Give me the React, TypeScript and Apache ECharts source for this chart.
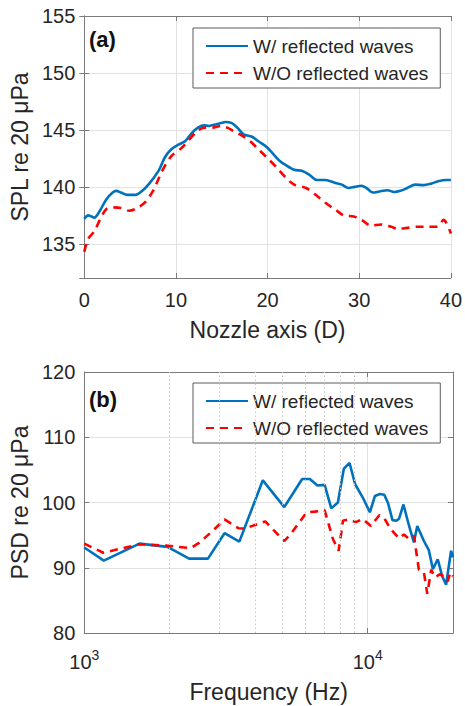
import React, { useEffect, useRef } from 'react';
import * as echarts from 'echarts';

// ---------- Panel (a): SPL along nozzle axis ----------
const nozzleW = [0, 0.43, 0.8, 1.1, 1.7, 2.4, 3.1, 3.5, 4.0, 4.7, 5.6, 6.1, 7.0, 8.1, 8.8, 9.5, 10.25, 11.0, 11.7, 12.4, 13.1, 13.6, 14.4, 14.9, 15.4, 16.1, 16.7, 17.4, 18.3, 19.0, 19.9, 20.6, 21.3, 22.0, 22.9, 23.8, 24.5, 25.4, 26.3, 27.4, 28.1, 28.8, 29.5, 30.25, 30.8, 31.5, 32.2, 33.1, 33.8, 34.5, 35.25, 36.1, 37.0, 37.9, 38.6, 39.5, 40];
const splW = [137.2, 137.5, 137.4, 137.3, 137.9, 138.9, 139.5, 139.65, 139.5, 139.3, 139.3, 139.5, 140.2, 141.4, 142.6, 143.3, 143.7, 144.0, 144.7, 145.2, 145.4, 145.35, 145.5, 145.6, 145.7, 145.6, 145.2, 144.6, 144.4, 144.0, 143.5, 142.9, 142.3, 141.9, 141.5, 141.4, 141.1, 140.6, 140.6, 140.35, 140.2, 139.9, 140.0, 140.1, 139.9, 139.5, 139.6, 139.7, 139.55, 139.65, 139.9, 140.2, 140.15, 140.3, 140.5, 140.6, 140.6];
const nozzleWO = [0, 0.4, 1.1, 1.7, 2.4, 3.1, 4.0, 4.9, 5.8, 6.7, 7.6, 8.5, 9.5, 10.6, 11.3, 12.2, 13.1, 14.0, 14.9, 15.6, 16.3, 17.2, 18.1, 19.0, 19.9, 21.0, 22.0, 22.9, 24.2, 25.25, 26.3, 27.4, 28.3, 29.4, 30.25, 31.3, 32.4, 33.5, 34.2, 35.25, 36.3, 37.4, 38.5, 39.2, 40];
const splWO = [134.3, 135.4, 136.1, 137.1, 138.05, 138.2, 138.15, 137.9, 138.15, 138.7, 139.8, 141.4, 142.7, 143.4, 144.0, 144.8, 145.2, 145.2, 145.35, 145.2, 144.9, 144.5, 144.0, 143.3, 142.6, 141.7, 140.8, 140.2, 139.9, 139.3, 138.6, 138.0, 137.5, 137.4, 137.1, 136.6, 136.7, 136.5, 136.3, 136.4, 136.5, 136.5, 136.5, 137.1, 135.9];

// ---------- Panel (b): PSD spectrum ----------
const freqW = [1000, 1172, 1566, 1967, 2344, 2731, 3125, 3525, 4266, 5080, 5873, 6250, 6650, 7050, 7440, 7850, 8240, 8630, 9030, 9600, 10180, 10610, 11050, 11440, 11800, 12230, 12630, 12900, 13370, 14000, 14560, 14960, 15790, 16430, 16980, 17670, 18320, 18910, 19690, 20000];
const psdW = [93.1, 91.1, 93.7, 93.2, 91.4, 91.4, 95.3, 94.0, 103.4, 99.3, 103.6, 103.6, 102.6, 102.7, 99.1, 100.0, 105.2, 106.05, 102.8, 100.8, 98.5, 101.0, 101.3, 101.2, 99.9, 97.3, 97.2, 97.5, 99.7, 96.4, 93.9, 96.4, 94.1, 92.7, 89.8, 91.3, 88.7, 87.4, 92.6, 91.6];
const freqWO = [1000, 1166, 1566, 1943, 2375, 2540, 2830, 3125, 3505, 3680, 4350, 5080, 5380, 6090, 6500, 7050, 7540, 7900, 8180, 8500, 9100, 9600, 10260, 10990, 11440, 12060, 12900, 13420, 14000, 14560, 15160, 15790, 16230, 16750, 17300, 17950, 18560, 19160, 19580, 20000];
const psdWO = [93.7, 92.3, 93.6, 93.4, 93.0, 93.8, 95.6, 97.4, 96.05, 96.0, 97.1, 94.1, 95.3, 98.5, 98.6, 98.8, 94.4, 92.6, 97.2, 97.4, 97.0, 97.5, 96.4, 98.05, 97.6, 95.9, 94.5, 95.1, 94.4, 94.9, 89.7, 89.3, 86.0, 89.7, 88.5, 89.0, 88.7, 87.9, 89.3, 88.7];
const minorFreqs = [2000, 3000, 4000, 5000, 6000, 7000, 8000, 9000];

const seriesNames = ['W/ reflected waves', 'W/O reflected waves'];
const panelLabels = ['(a)', '(b)'];
const axisTitles = {
  xa: 'Nozzle axis (D)',
  ya: 'SPL re 20 μPa',
  xb: 'Frequency (Hz)',
  yb: 'PSD re 20 μPa',
};

const FONT = '"Liberation Sans", Arial, Helvetica, sans-serif';
const TXT = '#262626';
const BOX = '#7a7a7a';
const GRIDC = '#e2e2e2';
const BLUE = '#0072BD';
const RED = '#FF0000';

const zip = (xs: number[], ys: number[]) => xs.map((x, i) => [x, ys[i]]);

function buildOption(): any {
  const tickStyle = { show: true, inside: true, length: 5, lineStyle: { color: BOX, width: 1 } };
  const lineAxis = { show: true, lineStyle: { color: BOX, width: 1 } };
  const label = { fontSize: 20, color: TXT, fontFamily: FONT };
  const nameStyle = { fontSize: 23, color: TXT, fontFamily: FONT };
  const split = { show: true, lineStyle: { color: GRIDC, width: 1 } };

  const mirrorX = (gridIndex: number, extra: any) => ({
    gridIndex, position: 'top', axisLine: lineAxis, axisTick: tickStyle,
    axisLabel: { show: false }, splitLine: { show: false }, ...extra,
  });
  const mirrorY = (gridIndex: number, extra: any) => ({
    gridIndex, position: 'right', axisLine: lineAxis, axisTick: tickStyle,
    axisLabel: { show: false }, splitLine: { show: false }, ...extra,
  });

  const isPow10 = (v: number) => {
    const l = Math.log10(v);
    return Math.abs(l - Math.round(l)) < 1e-6;
  };

  const legendBase = {
    orient: 'vertical',
    left: 193,
    itemWidth: 42,
    itemHeight: 14,
    itemGap: 7,
    padding: [8, 12, 5, 12],
    backgroundColor: '#ffffff',
    borderColor: '#5a5a5a',
    borderWidth: 1,
    borderRadius: 0,
    selectedMode: false,
    itemStyle: { opacity: 0 },
    textStyle: { fontSize: 19, color: TXT, fontFamily: FONT, lineHeight: 20 },
    data: seriesNames,
  };

  return {
    animation: false,
    backgroundColor: '#ffffff',
    grid: [
      { left: 81, top: 16, width: 372, height: 262 },
      { left: 81, top: 372, width: 372, height: 261 },
    ],
    legend: [
      { ...legendBase, top: 28 },
      { ...legendBase, top: 383 },
    ],
    xAxis: [
      {
        gridIndex: 0, type: 'value', min: 0, max: 40, interval: 10, position: 'bottom',
        axisLine: lineAxis, axisTick: tickStyle,
        axisLabel: { ...label, margin: 12 },
        splitLine: split,
        name: axisTitles.xa, nameLocation: 'middle', nameGap: 40, nameTextStyle: nameStyle,
      },
      mirrorX(0, { type: 'value', min: 0, max: 40, interval: 10 }),
      {
        gridIndex: 1, type: 'log', logBase: 10, min: 1000, max: 20000, position: 'bottom',
        axisLine: lineAxis, axisTick: tickStyle,
        axisLabel: {
          margin: 15,
          formatter: (v: number) => (isPow10(v) ? `{b|10}{s|${Math.round(Math.log10(v))}}` : ''),
          rich: {
            b: { fontSize: 20, color: TXT, fontFamily: FONT, lineHeight: 28 },
            s: { fontSize: 14, color: TXT, fontFamily: FONT, lineHeight: 16, verticalAlign: 'top' },
          },
        },
        splitLine: split,
        name: axisTitles.xb, nameLocation: 'middle', nameGap: 47, nameTextStyle: nameStyle,
      },
      mirrorX(1, { type: 'log', logBase: 10, min: 1000, max: 20000 }),
    ],
    yAxis: [
      {
        gridIndex: 0, type: 'value', min: 132, max: 155, splitNumber: 5, position: 'left',
        axisLine: lineAxis, axisTick: tickStyle,
        axisLabel: { ...label, margin: 9, formatter: (v: number) => (Math.abs(v % 5) < 1e-6 ? String(v) : '') },
        splitLine: split,
        name: axisTitles.ya, nameLocation: 'middle', nameGap: 49, nameTextStyle: nameStyle,
      },
      mirrorY(0, { type: 'value', min: 132, max: 155, splitNumber: 5 }),
      {
        gridIndex: 1, type: 'value', min: 80, max: 120, interval: 10, position: 'left',
        axisLine: lineAxis, axisTick: tickStyle,
        axisLabel: { ...label, margin: 9 },
        splitLine: split,
        name: axisTitles.yb, nameLocation: 'middle', nameGap: 49, nameTextStyle: nameStyle,
      },
      mirrorY(1, { type: 'value', min: 80, max: 120, interval: 10 }),
    ],
    graphic: [
      { type: 'text', left: 89, top: 28, z: 10, style: { text: panelLabels[0], font: `bold 22px ${FONT}`, fill: '#111' } },
      { type: 'text', left: 89, top: 388, z: 10, style: { text: panelLabels[1], font: `bold 22px ${FONT}`, fill: '#111' } },
    ],
    series: [
      {
        name: seriesNames[0], type: 'line', xAxisIndex: 0, yAxisIndex: 0,
        data: zip(nozzleW, splW), showSymbol: false, symbol: 'none', smooth: 0.3,
        lineStyle: { color: BLUE, width: 2.6 }, itemStyle: { color: BLUE },
      },
      {
        name: seriesNames[1], type: 'line', xAxisIndex: 0, yAxisIndex: 0,
        data: zip(nozzleWO, splWO), showSymbol: false, symbol: 'none', smooth: 0.3,
        lineStyle: { color: RED, width: 2.6, type: [8, 6] }, itemStyle: { color: RED },
      },
      {
        name: seriesNames[0], type: 'line', xAxisIndex: 2, yAxisIndex: 2,
        data: zip(freqW, psdW), showSymbol: false, symbol: 'none',
        lineStyle: { color: BLUE, width: 2.6 }, itemStyle: { color: BLUE },
        markLine: {
          silent: true, symbol: ['none', 'none'], animation: false,
          label: { show: false },
          lineStyle: { color: '#c8c8c8', width: 1, type: [1.5, 2.5] },
          emphasis: { disabled: true },
          data: minorFreqs.map((f) => ({ xAxis: f })),
        },
      },
      {
        name: seriesNames[1], type: 'line', xAxisIndex: 2, yAxisIndex: 2,
        data: zip(freqWO, psdWO), showSymbol: false, symbol: 'none',
        lineStyle: { color: RED, width: 2.6, type: [8, 6] }, itemStyle: { color: RED },
      },
    ],
  };
}

export default function App() {
  const ref = useRef<HTMLDivElement>(null);
  useEffect(() => {
    if (!ref.current) return;
    const chart = echarts.init(ref.current, undefined, { renderer: 'svg' });
    chart.setOption(buildOption());
    return () => chart.dispose();
  }, []);
  return <div ref={ref} style={{ width: 465, height: 706, position: 'absolute', left: 0, top: 0 }} />;
}
